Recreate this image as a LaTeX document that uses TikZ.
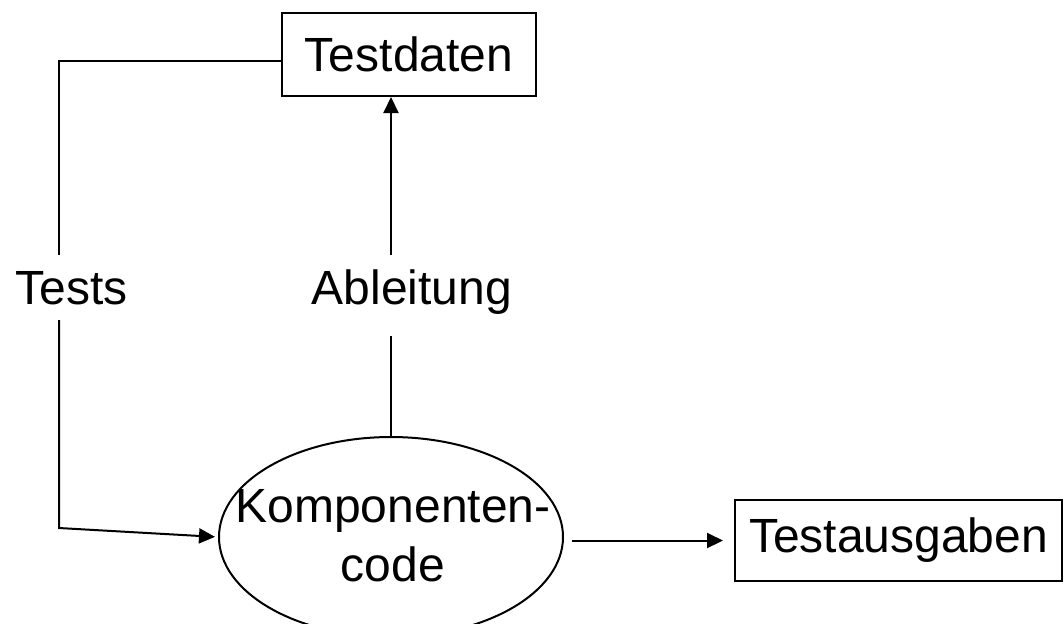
\documentclass[tikz,border=0pt]{standalone}
\usepackage{fontspec}
\setmainfont{Liberation Sans}
\usetikzlibrary{arrows.meta,shapes.geometric}
\begin{document}
\begin{tikzpicture}[x=0.5pt,y=-0.5pt, line width=1pt,
  every node/.style={font=\fontsize{24}{29.5}\selectfont},
  box/.style={draw, rectangle, inner sep=0pt},
  lbl/.style={inner sep=0pt, text height=17.2pt, text depth=0pt, minimum height=31.5pt},
  arr/.style={-{Triangle[length=8pt,width=7.5pt]}}]
\useasboundingbox (0,0) rectangle (1064,623);
\clip (0,0) rectangle (1064,623);

% data flow elements
\node[box, minimum width=127pt, minimum height=41.75pt] (testdaten) at (409,54.25) {Testdaten};
\node[draw, ellipse, minimum width=172pt, minimum height=100pt, inner sep=0pt] (code) at (391,537) {};
\node[align=center, inner sep=0pt] (codetext) at (393,536) {Komponenten-\\code};
\node[box, minimum width=163.5pt, minimum height=40.5pt] (testausgaben) at (898.5,540.5) {Testausgaben};

% edge labels
\node[lbl] (tests) at (71.5,287.5) {Tests};
\node[lbl] (ableitung) at (412,287.5) {Ableitung};

% Tests: from the test data down to the component
\coordinate (tl) at (59,61);
\coordinate (bl) at (59,528);
\draw (testdaten.west |- tl) -- (tl) -- (tl |- tests.north);
\draw[arr, shorten >=1.5pt] (tl |- tests.south) -- (bl) -- (code.west);

% Ableitung: derived from the component
\draw (code.north) -- ([yshift=-8pt]code.north |- ableitung.south);
\draw[arr] (code.north |- ableitung.north) -- (code.north |- testdaten.south);

% output
\draw[arr, shorten <=4pt, shorten >=5.5pt] (code.east |- testausgaben.west) -- (testausgaben.west);
\end{tikzpicture}
\end{document}
